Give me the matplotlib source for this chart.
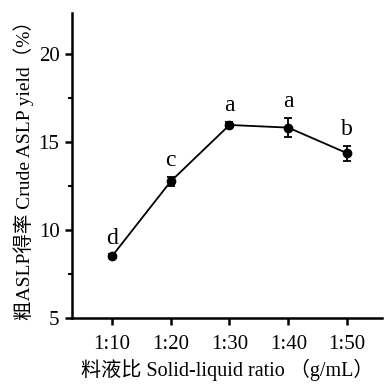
import matplotlib
matplotlib.use('Agg')
import numpy as np
import matplotlib.pyplot as plt
from matplotlib.ticker import MultipleLocator

plt.rcParams['font.family'] = ['Liberation Serif', 'Noto Sans CJK SC']
plt.rcParams['axes.unicode_minus'] = False

# Data
ratios = ['1:10', '1:20', '1:30', '1:40', '1:50']
yield_pct = [8.5, 12.75, 15.95, 15.8, 14.35]
yield_err = [0.12, 0.25, 0.18, 0.55, 0.42]
sig_letters = ['d', 'c', 'a', 'a', 'b']

fig = plt.figure(figsize=(3.84, 3.84), dpi=100)
ax = fig.add_axes([0.1875, 0.172, 0.808, 0.794])

x = np.arange(len(ratios))
ax.errorbar(x, yield_pct, yerr=yield_err, fmt='o-', color='black',
            markersize=6, linewidth=1.3, elinewidth=1.3, capsize=3, capthick=1.3)

# significance letters just above each error bar
for xi, yi, ei, lab in zip(x, yield_pct, yield_err, sig_letters):
    ax.text(xi, yi + ei + 0.6, lab, ha='center', va='baseline', fontsize=17)

ax.set_xlim(-0.68, 4.6)
ax.set_ylim(5, 22.3)
ax.set_xticks(x)
ax.set_xticklabels(ratios)
ax.set_yticks([5, 10, 15, 20])
ax.yaxis.set_minor_locator(MultipleLocator(2.5))

for side in ['top', 'right']:
    ax.spines[side].set_visible(False)
for side in ['left', 'bottom']:
    ax.spines[side].set_linewidth(1.8)

ax.tick_params(axis='both', which='major', direction='out', length=5, width=1.8,
               labelsize=15)
ax.tick_params(axis='y', which='minor', direction='out', length=3, width=1.5)
ax.tick_params(axis='x', pad=7)
ax.tick_params(axis='y', pad=4)

ax.set_xlabel('料液比 Solid-liquid ratio （g/mL）', fontsize=14.5, labelpad=4)
ax.set_ylabel('粗ASLP得率 Crude ASLP yield（%）', fontsize=14, labelpad=3)

fig.savefig('out.png', dpi=100)
